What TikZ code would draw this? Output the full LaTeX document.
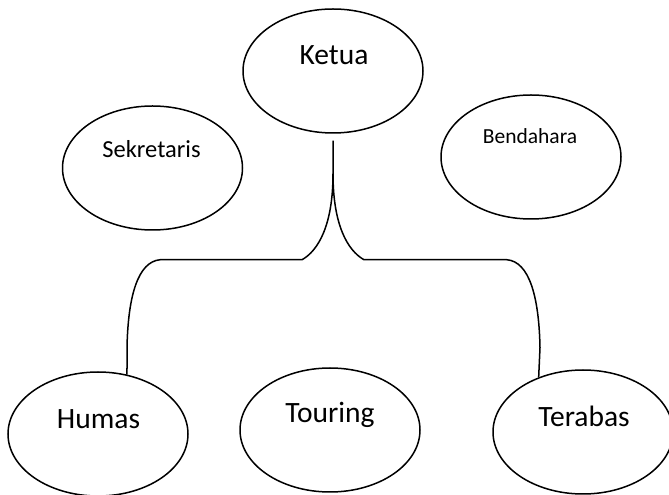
\documentclass[tikz,border=0pt]{standalone}
\usepackage{fontspec}
\setmainfont{Carlito}
\usetikzlibrary{shapes.geometric}
\begin{document}
\begin{tikzpicture}[x=1pt,y=1pt,
  oval/.style={ellipse, draw=black, line width=1.5pt, minimum width=180pt, minimum height=124pt, inner sep=0pt},
  lbl/.style={anchor=base, inner sep=0pt, font=\fontsize{29.5}{32}\selectfont},
  smalllbl/.style={anchor=base, inner sep=0pt, font=\fontsize{24.5}{28}\selectfont},
  tinylbl/.style={anchor=base, inner sep=0pt, font=\fontsize{21.5}{25}\selectfont},
  conn/.style={line width=1.5pt, line join=round}]
\useasboundingbox (0,0) rectangle (669,495);
% ellipses
\node[oval] (ketua) at (333,424) {};
\node[oval] (sekretaris) at (152.5,327) {};
\node[oval] (bendahara) at (531,338) {};
\node[oval] (humas) at (98,61) {};
\node[oval] (touring) at (330,65) {};
\node[oval] (terabas) at (583,63) {};
% labels
\node[lbl] (tketua) at (334,430) {Ketua};
\node[smalllbl] (tsekretaris) at (151.5,337) {Sekretaris};
\node[tinylbl] (tbendahara) at (530,351) {Bendahara};
\node[lbl] (thumas) at (98.5,66) {Humas};
\node[lbl] (ttouring) at (330,72) {Touring};
\node[lbl] (tterabas) at (584,68) {Terabas};
% connectors
\coordinate (kb) at ([yshift=-7pt]ketua.south);
\coordinate (split) at ([yshift=-33pt]kb);
\draw[conn] (kb) -- (split)
  .. controls ([yshift=-52pt]split) and ([xshift=-15pt,yshift=-77pt]split) .. ([xshift=-31pt,yshift=-86pt]split)
  -- ([xshift=-173pt,yshift=-86pt]split)
  .. controls ([xshift=-195pt,yshift=-88pt]split) and ([xshift=-205pt,yshift=-122pt]split) .. ([xshift=-206pt,yshift=-174pt]split)
  -- (humas.64);
\draw[conn] (split)
  .. controls ([yshift=-52pt]split) and ([xshift=15pt,yshift=-77pt]split) .. ([xshift=31pt,yshift=-86pt]split)
  -- ([xshift=174pt,yshift=-86pt]split)
  .. controls ([xshift=196pt,yshift=-88pt]split) and ([xshift=206pt,yshift=-122pt]split) .. ([xshift=207pt,yshift=-174pt]split)
  -- (terabas.129);
\end{tikzpicture}
\end{document}
